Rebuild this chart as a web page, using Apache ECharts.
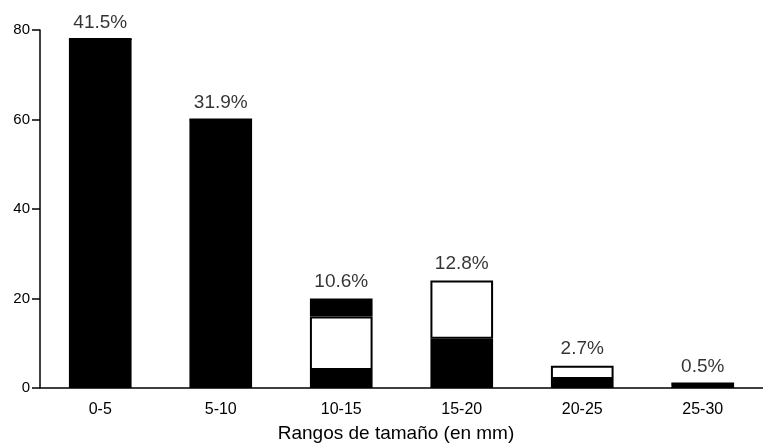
<!DOCTYPE html>
<html><head><meta charset="utf-8">
<script src="https://cdn.jsdelivr.net/npm/echarts@6/dist/echarts.min.js"></script>
<style>html,body{margin:0;padding:0;background:#fff}#c{width:763px;height:444px}</style>
</head><body><div id="c"></div>
<script>
const categories = ['0-5', '5-10', '10-15', '15-20', '20-25', '25-30'];
const blackBottom = [78, 60, 4, 11, 2, 1];
const whiteMiddle = [0, 0, 12, 13, 3, 0];
const blackTop = [0, 0, 4, 0, 0, 0];
const pctLabels = ['41.5%', '31.9%', '10.6%', '12.8%', '2.7%', '0.5%'];
const yTicks = [0, 20, 40, 60, 80];
const axisTitle = 'Rangos de tamaño (en mm)';

const totals = categories.map((c, i) => blackBottom[i] + whiteMiddle[i] + blackTop[i]);
const FONT = '"Liberation Sans", Arial, Helvetica, sans-serif';

const chart = echarts.init(document.getElementById('c'), null, {renderer: 'canvas'});
chart.setOption({
  animation: false,
  backgroundColor: '#fff',
  textStyle: {fontFamily: FONT},
  grid: {left: 40, top: 30, width: 726, bottom: 56},
  xAxis: {
    type: 'category',
    data: categories,
    axisLine: {lineStyle: {color: '#000', width: 1.5}},
    axisTick: {alignWithLabel: true, length: 5, lineStyle: {color: '#000', width: 1.5}},
    axisLabel: {color: '#000', fontSize: 16, margin: 14, fontFamily: FONT}
  },
  yAxis: {
    type: 'value',
    min: yTicks[0], max: yTicks[yTicks.length - 1], interval: 20,
    splitLine: {show: false},
    axisLine: {show: true, lineStyle: {color: '#000', width: 1.5}},
    axisTick: {show: true, length: 8, lineStyle: {color: '#000', width: 1.5}},
    axisLabel: {color: '#000', fontSize: 15, margin: 10, fontFamily: FONT}
  },
  graphic: [{
    type: 'text', x: 396, y: 434,
    style: {text: axisTitle, fill: '#000', font: '19px ' + FONT,
      align: 'center', verticalAlign: 'middle'}
  }],
  series: [
    {type: 'bar', stack: 's', data: blackBottom, barWidth: '52%',
     itemStyle: {color: '#000'}},
    {type: 'bar', stack: 's', data: whiteMiddle, barWidth: '52%',
     itemStyle: {color: '#fff', borderColor: '#000', borderWidth: 2}},
    {type: 'bar', stack: 's', data: blackTop, barWidth: '52%',
     itemStyle: {color: '#000'}},
    {type: 'scatter', data: totals, symbolSize: 0, silent: true,
     label: {show: true, position: 'top', distance: 7, color: '#000', fontSize: 19,
       fontFamily: FONT, formatter: p => pctLabels[p.dataIndex]}}
  ]
});
</script></body></html>
